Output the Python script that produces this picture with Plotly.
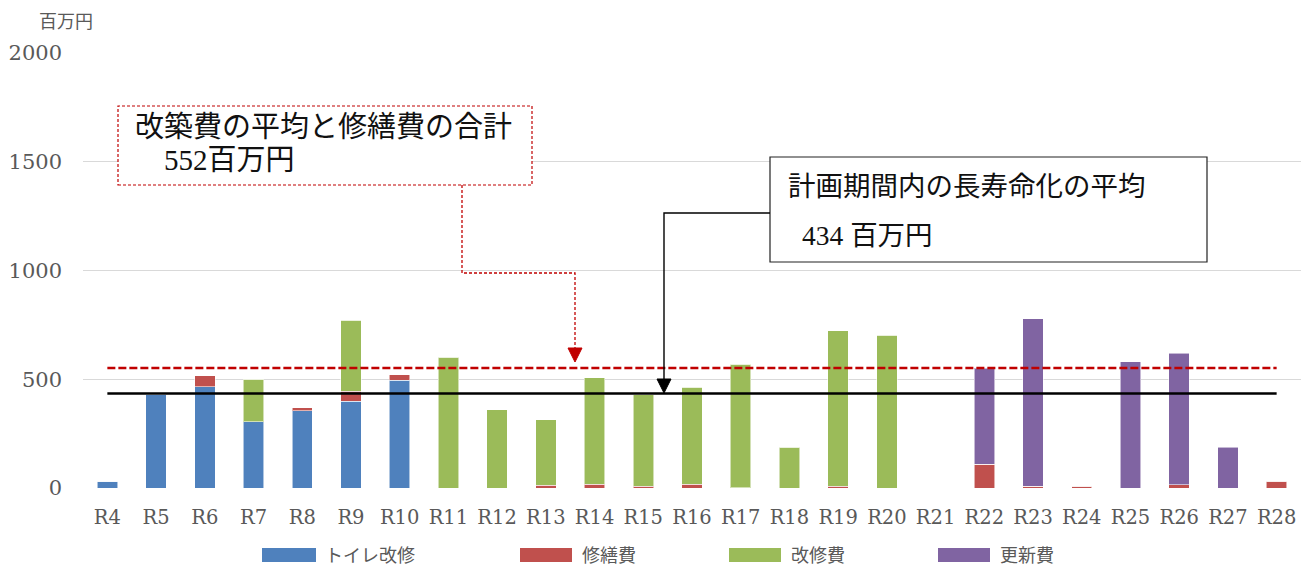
import plotly.graph_objects as go

# Fiscal years (Reiwa 4 .. Reiwa 28)
years = ["R4", "R5", "R6", "R7", "R8", "R9", "R10", "R11", "R12", "R13", "R14", "R15", "R16",
         "R17", "R18", "R19", "R20", "R21", "R22", "R23", "R24", "R25", "R26", "R27", "R28"]

# Costs per year, million yen
toilet_renovation = [30, 430, 466, 305, 355, 399, 495, 0, 0, 0, 0, 0, 0,
                     0, 0, 0, 0, 0, 0, 0, 0, 0, 0, 0, 0]
repairs = [0, 0, 50, 0, 13, 47, 26, 0, 0, 12, 18, 8, 18,
           2, 0, 7, 0, 0, 109, 8, 9, 0, 15, 0, 30]
renovation = [0, 0, 0, 196, 0, 326, 0, 601, 360, 301, 489, 420, 446,
              568, 188, 715, 703, 0, 0, 0, 0, 0, 0, 0, 0]
renewal = [0, 0, 0, 0, 0, 0, 0, 0, 0, 0, 0, 0, 0,
           0, 0, 0, 0, 0, 441, 770, 0, 581, 604, 188, 0]

series_names = ["トイレ改修", "修繕費", "改修費", "更新費"]
series_colors = ["#4f81bd", "#c0504d", "#9bbb59", "#8064a2"]

avg_rebuild_plus_repair = 552   # 改築費の平均と修繕費の合計
avg_long_life = 434             # 計画期間内の長寿命化の平均

y_ticks = [0, 500, 1000, 1500, 2000]

W, H = 1306, 566
L, R, T, B = 83, 1301, 53, 488

SERIF = "Liberation Serif, DejaVu Serif, Noto Sans CJK JP"
AXIS_SERIF = "DejaVu Serif, Liberation Serif, serif"
SANS_JP = "Noto Sans CJK JP"


def px(x):
    return (x - L) / (R - L)


def py(y):
    return (B - y) / (B - T)


fig = go.Figure()

for name, vals, col in zip(series_names,
                           [toilet_renovation, repairs, renovation, renewal],
                           series_colors):
    fig.add_trace(go.Bar(
        x=years, y=vals, name=name, width=0.42,
        marker=dict(color=col, line=dict(color="rgba(255,255,255,0.55)", width=1)),
        showlegend=False,
    ))

# average lines
fig.add_trace(go.Scatter(
    x=[years[0], years[-1]], y=[avg_rebuild_plus_repair] * 2, mode="lines",
    line=dict(color="#c00000", width=2.5, dash="8px,3px"), showlegend=False,
    hoverinfo="skip",
))
fig.add_trace(go.Scatter(
    x=[years[0], years[-1]], y=[avg_long_life] * 2, mode="lines",
    line=dict(color="#000000", width=2.5), showlegend=False, hoverinfo="skip",
))

shapes = []
annotations = []

# callout 1: dashed red box with elbow connector
shapes.append(dict(type="rect", xref="paper", yref="paper",
                   x0=px(118), x1=px(532), y0=py(185), y1=py(106),
                   line=dict(color="#c00000", width=1.2, dash="3px,2px"),
                   fillcolor="white", layer="above"))
shapes.append(dict(type="path", xref="paper", yref="paper",
                   path=f"M{px(462)},{py(185)} L{px(462)},{py(273)} L{px(575)},{py(273)} L{px(575)},{py(350)}",
                   line=dict(color="#c00000", width=1.3, dash="3px,2px")))
shapes.append(dict(type="path", xref="paper", yref="paper",
                   path=f"M{px(568)},{py(348)} L{px(582)},{py(348)} L{px(575)},{py(362)} Z",
                   line=dict(color="#c00000", width=1), fillcolor="#c00000"))
annotations.append(dict(xref="paper", yref="paper", x=px(133), y=py(127),
                        xanchor="left", yanchor="middle", showarrow=False,
                        text="改築費の平均と修繕費の合計",
                        font=dict(family=SERIF, size=29, color="#111111")))
annotations.append(dict(xref="paper", yref="paper", x=px(162), y=py(160),
                        xanchor="left", yanchor="middle", showarrow=False,
                        text=f"{avg_rebuild_plus_repair}百万円",
                        font=dict(family=SERIF, size=29, color="#111111")))

# callout 2: solid box with elbow connector
shapes.append(dict(type="rect", xref="paper", yref="paper",
                   x0=px(770), x1=px(1207), y0=py(262), y1=py(157),
                   line=dict(color="#222222", width=1.2),
                   fillcolor="white", layer="above"))
shapes.append(dict(type="path", xref="paper", yref="paper",
                   path=f"M{px(770)},{py(213)} L{px(664)},{py(213)} L{px(664)},{py(381)}",
                   line=dict(color="#000000", width=1.4)))
shapes.append(dict(type="path", xref="paper", yref="paper",
                   path=f"M{px(657)},{py(379)} L{px(671)},{py(379)} L{px(664)},{py(393)} Z",
                   line=dict(color="#000000", width=1), fillcolor="#000000"))
annotations.append(dict(xref="paper", yref="paper", x=px(786), y=py(186),
                        xanchor="left", yanchor="middle", showarrow=False,
                        text="計画期間内の長寿命化の平均",
                        font=dict(family=SERIF, size=27.5, color="#111111")))
annotations.append(dict(xref="paper", yref="paper", x=px(800), y=py(236),
                        xanchor="left", yanchor="middle", showarrow=False,
                        text=f"{avg_long_life} 百万円",
                        font=dict(family=SERIF, size=27.5, color="#111111")))

# unit label
annotations.append(dict(xref="paper", yref="paper", x=px(66), y=py(20),
                        xanchor="center", yanchor="middle", showarrow=False,
                        text="百万円", font=dict(family=SANS_JP, size=18, color="#595959")))

# legend row
legend_pos = [(262, 316, 323), (520, 572, 580), (729, 781, 789), (938, 990, 998)]
for (sx0, sx1, tx), name, col in zip(legend_pos, series_names, series_colors):
    shapes.append(dict(type="rect", xref="paper", yref="paper",
                       x0=px(sx0), x1=px(sx1), y0=py(562), y1=py(548),
                       line=dict(width=0), fillcolor=col))
    annotations.append(dict(xref="paper", yref="paper", x=px(tx), y=py(554),
                            xanchor="left", yanchor="middle", showarrow=False,
                            text=name, font=dict(family=SANS_JP, size=18, color="#595959")))

fig.update_layout(
    width=W, height=H, autosize=False,
    margin=dict(l=L, r=W - R, t=T, b=H - B, pad=0),
    paper_bgcolor="white", plot_bgcolor="white",
    barmode="stack", bargap=0.58,
    shapes=shapes, annotations=annotations,
    showlegend=False,
    xaxis=dict(type="category", categoryorder="array", categoryarray=years,
               showgrid=False, zeroline=False, showline=False, ticks="",
               tickfont=dict(family=AXIS_SERIF, size=19.5, color="#595959"),
               ticklabelstandoff=15, fixedrange=True),
    yaxis=dict(range=[0, 2000], tickvals=y_ticks, showgrid=True,
               gridcolor="#d9d9d9", gridwidth=1.3, zeroline=False, showline=False,
               ticks="", tickfont=dict(family=AXIS_SERIF, size=21, color="#595959"),
               ticklabelstandoff=20, fixedrange=True),
)

fig.write_html("out.html")
